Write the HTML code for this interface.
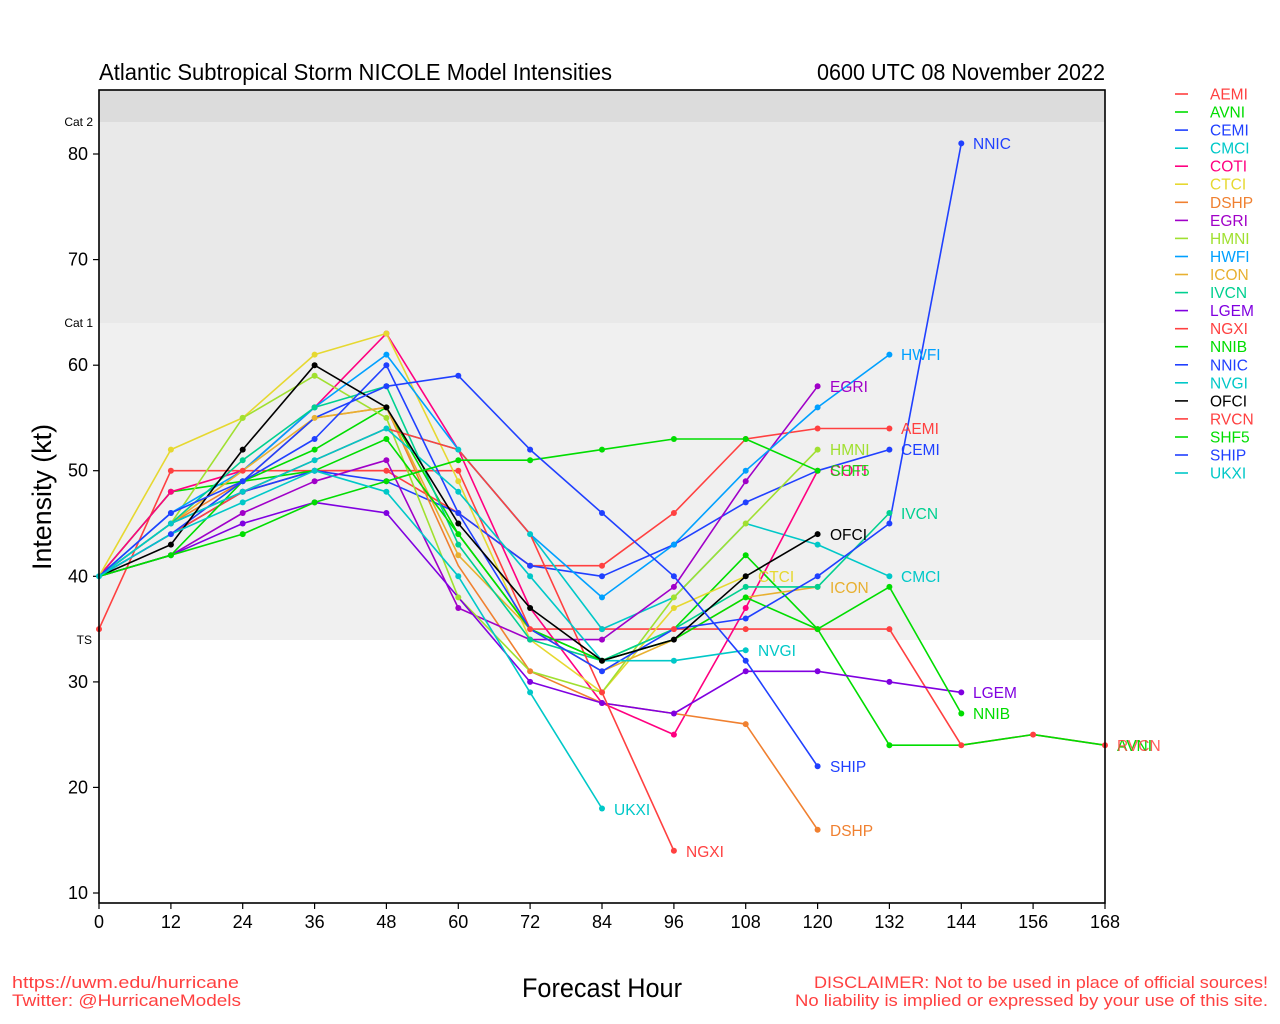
<!DOCTYPE html>
<html><head><meta charset="utf-8"><style>
html,body{margin:0;padding:0;background:#fff;}
svg{display:block;}
text{font-family:"Liberation Sans",sans-serif;}
</style></head><body>
<svg width="1280" height="1024" viewBox="0 0 1280 1024" xmlns="http://www.w3.org/2000/svg">
<rect x="0" y="0" width="1280" height="1024" fill="#ffffff"/>
<!-- bands -->
<rect x="99" y="90" width="1006" height="32" fill="#dcdcdc"/>
<rect x="99" y="122" width="1006" height="201" fill="#e9e9e9"/>
<rect x="99" y="323" width="1006" height="317" fill="#f0f0f0"/>
<!-- titles -->
<text x="99" y="80" font-size="23" textLength="513" lengthAdjust="spacingAndGlyphs" fill="#000">Atlantic Subtropical Storm NICOLE Model Intensities</text>
<text x="1105" y="80" font-size="23" text-anchor="end" textLength="288" lengthAdjust="spacingAndGlyphs" fill="#000">0600 UTC 08 November 2022</text>
<!-- cat labels -->
<text x="93" y="126" font-size="12" text-anchor="end" fill="#000">Cat 2</text>
<text x="93" y="327" font-size="12" text-anchor="end" fill="#000">Cat 1</text>
<text x="92" y="644" font-size="12" text-anchor="end" fill="#000">TS</text>
<!-- y ticks -->
<g stroke="#000" stroke-width="1.2">
<line x1="93" y1="154" x2="99" y2="154"/>
<line x1="93" y1="259.6" x2="99" y2="259.6"/>
<line x1="93" y1="365.2" x2="99" y2="365.2"/>
<line x1="93" y1="470.7" x2="99" y2="470.7"/>
<line x1="93" y1="576.3" x2="99" y2="576.3"/>
<line x1="93" y1="681.9" x2="99" y2="681.9"/>
<line x1="93" y1="787.4" x2="99" y2="787.4"/>
<line x1="93" y1="893" x2="99" y2="893"/>
</g>
<g font-size="18" text-anchor="end" fill="#000">
<text x="88" y="160">80</text>
<text x="88" y="265.6">70</text>
<text x="88" y="371.2">60</text>
<text x="88" y="476.7">50</text>
<text x="88" y="582.3">40</text>
<text x="88" y="687.9">30</text>
<text x="88" y="793.4">20</text>
<text x="88" y="899">10</text>
</g>
<!-- x ticks -->
<g stroke="#000" stroke-width="1.2">
<line x1="99" y1="903" x2="99" y2="909"/>
<line x1="170.9" y1="903" x2="170.9" y2="909"/>
<line x1="242.7" y1="903" x2="242.7" y2="909"/>
<line x1="314.6" y1="903" x2="314.6" y2="909"/>
<line x1="386.4" y1="903" x2="386.4" y2="909"/>
<line x1="458.3" y1="903" x2="458.3" y2="909"/>
<line x1="530.1" y1="903" x2="530.1" y2="909"/>
<line x1="602" y1="903" x2="602" y2="909"/>
<line x1="673.9" y1="903" x2="673.9" y2="909"/>
<line x1="745.7" y1="903" x2="745.7" y2="909"/>
<line x1="817.6" y1="903" x2="817.6" y2="909"/>
<line x1="889.4" y1="903" x2="889.4" y2="909"/>
<line x1="961.3" y1="903" x2="961.3" y2="909"/>
<line x1="1033.1" y1="903" x2="1033.1" y2="909"/>
<line x1="1105" y1="903" x2="1105" y2="909"/>
</g>
<g font-size="18" text-anchor="middle" fill="#000">
<text x="99" y="928">0</text>
<text x="170.9" y="928">12</text>
<text x="242.7" y="928">24</text>
<text x="314.6" y="928">36</text>
<text x="386.4" y="928">48</text>
<text x="458.3" y="928">60</text>
<text x="530.1" y="928">72</text>
<text x="602" y="928">84</text>
<text x="673.9" y="928">96</text>
<text x="745.7" y="928">108</text>
<text x="817.6" y="928">120</text>
<text x="889.4" y="928">132</text>
<text x="961.3" y="928">144</text>
<text x="1033.1" y="928">156</text>
<text x="1105" y="928">168</text>
</g>
<!-- axis titles -->
<text x="0" y="0" font-size="27" text-anchor="middle" textLength="146" lengthAdjust="spacingAndGlyphs" transform="translate(51,497) rotate(-90)" fill="#000">Intensity (kt)</text>
<text x="602" y="997" font-size="27" text-anchor="middle" textLength="160" lengthAdjust="spacingAndGlyphs" fill="#000">Forecast Hour</text>
<!-- footer -->
<g font-size="17" fill="#ff4040">
<text x="12" y="988" textLength="227" lengthAdjust="spacingAndGlyphs">https://uwm.edu/hurricane</text>
<text x="12" y="1006" textLength="229" lengthAdjust="spacingAndGlyphs">Twitter: @HurricaneModels</text>
<text x="1268" y="988" text-anchor="end" textLength="454" lengthAdjust="spacingAndGlyphs">DISCLAIMER: Not to be used in place of official sources!</text>
<text x="1268" y="1006" text-anchor="end" textLength="473" lengthAdjust="spacingAndGlyphs">No liability is implied or expressed by your use of this site.</text>
</g>

<!-- series -->
<g fill="none" stroke-width="1.6" stroke-linejoin="round">
<polyline stroke="#ff4040" points="99,629.1 170.9,470.7 242.7,470.7 314.6,470.7 386.4,470.7 458.3,470.7 530.1,629.1 602,629.1 673.9,629.1 745.7,629.1 817.6,629.1 889.4,629.1 961.3,745.2 1033.1,734.6 1105,745.2"/>
<polyline stroke="#00dd00" points="99,576.3 170.9,491.8 242.7,481.3 314.6,449.6 386.4,407.4 458.3,534.1 530.1,629.1 602,660.7 673.9,629.1 745.7,555.2 817.6,629.1 889.4,745.2 961.3,745.2 1033.1,734.6 1105,745.2"/>
<polyline stroke="#ff4040" points="99,576.3 170.9,523.5 242.7,491.8 314.6,470.7 386.4,470.7 458.3,513.0 530.1,565.7 602,565.7 673.9,513.0 745.7,439.0 817.6,428.5 889.4,428.5"/>
<polyline stroke="#2040ff" points="99,576.3 170.9,534.1 242.7,491.8 314.6,470.7 386.4,481.3 458.3,513.0 530.1,565.7 602,576.3 673.9,544.6 745.7,502.4 817.6,470.7 889.4,449.6"/>
<polyline stroke="#00c8c8" points="99,576.3 170.9,523.5 242.7,491.8 314.6,460.2 386.4,428.5 458.3,449.6 530.1,534.1 602,629.1 673.9,597.4 745.7,523.5 817.6,544.6 889.4,576.3"/>
<polyline stroke="#ff0080" points="99,576.3 170.9,491.8 242.7,470.7 314.6,407.4 386.4,333.5 458.3,449.6 530.1,608.0 602,703.0 673.9,734.6 745.7,608.0 817.6,470.7"/>
<polyline stroke="#e6d830" points="99,576.3 170.9,449.6 242.7,417.9 314.6,354.6 386.4,333.5 458.3,481.3 530.1,639.6 602,692.4 673.9,608.0 745.7,576.3"/>
<polyline stroke="#f08030" points="99,576.3 170.9,523.5 242.7,481.3 314.6,417.9 386.4,407.4 458.3,565.7 530.1,671.3 602,703.0 673.9,713.5 745.7,724.1 817.6,829.7"/>
<polyline stroke="#a000c8" points="99,576.3 170.9,555.2 242.7,513.0 314.6,481.3 386.4,460.2 458.3,608.0 530.1,639.6 602,639.6 673.9,586.9 745.7,481.3 817.6,386.3"/>
<polyline stroke="#a0e030" points="99,576.3 170.9,523.5 242.7,417.9 314.6,375.7 386.4,417.9 458.3,597.4 530.1,671.3 602,692.4 673.9,597.4 745.7,523.5 817.6,449.6"/>
<polyline stroke="#00a0ff" points="99,576.3 170.9,513.0 242.7,470.7 314.6,407.4 386.4,354.6 458.3,449.6 530.1,534.1 602,597.4 673.9,544.6 745.7,470.7 817.6,407.4 889.4,354.6"/>
<polyline stroke="#e8b030" points="99,576.3 170.9,523.5 242.7,470.7 314.6,417.9 386.4,407.4 458.3,555.2 530.1,629.1 602,671.3 673.9,639.6 745.7,597.4 817.6,586.9"/>
<polyline stroke="#00d090" points="99,576.3 170.9,523.5 242.7,460.2 314.6,407.4 386.4,386.3 458.3,544.6 530.1,639.6 602,660.7 673.9,629.1 745.7,586.9 817.6,586.9 889.4,513.0"/>
<polyline stroke="#8000e0" points="99,576.3 170.9,555.2 242.7,523.5 314.6,502.4 386.4,513.0 458.3,597.4 530.1,681.9 602,703.0 673.9,713.5 745.7,671.3 817.6,671.3 889.4,681.9 961.3,692.4"/>
<polyline stroke="#ff4040" points="99,576.3 170.9,534.1 242.7,491.8 314.6,460.2 386.4,428.5 458.3,449.6 530.1,534.1 602,692.4 673.9,850.8"/>
<polyline stroke="#00dd00" points="99,576.3 170.9,555.2 242.7,481.3 314.6,470.7 386.4,439.0 458.3,534.1 530.1,629.1 602,660.7 673.9,639.6 745.7,597.4 817.6,629.1 889.4,586.9 961.3,713.5"/>
<polyline stroke="#2040ff" points="99,576.3 170.9,534.1 242.7,481.3 314.6,439.0 386.4,365.2 458.3,513.0 530.1,629.1 602,671.3 673.9,629.1 745.7,618.5 817.6,576.3 889.4,523.5 961.3,143.4"/>
<polyline stroke="#00c8c8" points="99,576.3 170.9,523.5 242.7,491.8 314.6,460.2 386.4,428.5 458.3,491.8 530.1,576.3 602,660.7 673.9,660.7 745.7,650.2"/>
<polyline stroke="#000000" points="99,576.3 170.9,544.6 242.7,449.6 314.6,365.2 386.4,407.4 458.3,523.5 530.1,608.0 602,660.7 673.9,639.6 745.7,576.3 817.6,534.1"/>
<polyline stroke="#00dd00" points="99,576.3 170.9,555.2 242.7,534.1 314.6,502.4 386.4,481.3 458.3,460.2 530.1,460.2 602,449.6 673.9,439.0 745.7,439.0 817.6,470.7"/>
<polyline stroke="#2040ff" points="99,576.3 170.9,513.0 242.7,481.3 314.6,417.9 386.4,386.3 458.3,375.7 530.1,449.6 602,513.0 673.9,576.3 745.7,660.7 817.6,766.3"/>
<polyline stroke="#00c8c8" points="99,576.3 170.9,534.1 242.7,502.4 314.6,470.7 386.4,491.8 458.3,576.3 530.1,692.4 602,808.5"/>
</g>

<!-- markers -->
<g>
<g fill="#ff4040"><circle cx="99" cy="629.1" r="3"/><circle cx="170.9" cy="470.7" r="3"/><circle cx="242.7" cy="470.7" r="3"/><circle cx="314.6" cy="470.7" r="3"/><circle cx="386.4" cy="470.7" r="3"/><circle cx="458.3" cy="470.7" r="3"/><circle cx="530.1" cy="629.1" r="3"/><circle cx="602" cy="629.1" r="3"/><circle cx="673.9" cy="629.1" r="3"/><circle cx="745.7" cy="629.1" r="3"/><circle cx="817.6" cy="629.1" r="3"/><circle cx="889.4" cy="629.1" r="3"/><circle cx="961.3" cy="745.2" r="3"/><circle cx="1033.1" cy="734.6" r="3"/><circle cx="1105" cy="745.2" r="3"/></g>
<g fill="#00dd00"><circle cx="170.9" cy="491.8" r="3"/><circle cx="242.7" cy="481.3" r="3"/><circle cx="314.6" cy="449.6" r="3"/><circle cx="386.4" cy="407.4" r="3"/><circle cx="458.3" cy="534.1" r="3"/><circle cx="602" cy="660.7" r="3"/><circle cx="745.7" cy="555.2" r="3"/><circle cx="817.6" cy="629.1" r="3"/><circle cx="889.4" cy="745.2" r="3"/></g>
<g fill="#ff4040"><circle cx="170.9" cy="523.5" r="3"/><circle cx="242.7" cy="491.8" r="3"/><circle cx="458.3" cy="513.0" r="3"/><circle cx="530.1" cy="565.7" r="3"/><circle cx="602" cy="565.7" r="3"/><circle cx="673.9" cy="513.0" r="3"/><circle cx="745.7" cy="439.0" r="3"/><circle cx="817.6" cy="428.5" r="3"/><circle cx="889.4" cy="428.5" r="3"/></g>
<g fill="#2040ff"><circle cx="170.9" cy="534.1" r="3"/><circle cx="242.7" cy="491.8" r="3"/><circle cx="314.6" cy="470.7" r="3"/><circle cx="386.4" cy="481.3" r="3"/><circle cx="458.3" cy="513.0" r="3"/><circle cx="530.1" cy="565.7" r="3"/><circle cx="602" cy="576.3" r="3"/><circle cx="673.9" cy="544.6" r="3"/><circle cx="745.7" cy="502.4" r="3"/><circle cx="889.4" cy="449.6" r="3"/></g>
<g fill="#00c8c8"><circle cx="170.9" cy="523.5" r="3"/><circle cx="242.7" cy="491.8" r="3"/><circle cx="314.6" cy="460.2" r="3"/><circle cx="386.4" cy="428.5" r="3"/><circle cx="458.3" cy="449.6" r="3"/><circle cx="530.1" cy="534.1" r="3"/><circle cx="602" cy="629.1" r="3"/><circle cx="817.6" cy="544.6" r="3"/><circle cx="889.4" cy="576.3" r="3"/></g>
<g fill="#ff0080"><circle cx="170.9" cy="491.8" r="3"/><circle cx="314.6" cy="407.4" r="3"/><circle cx="386.4" cy="333.5" r="3"/><circle cx="602" cy="703.0" r="3"/><circle cx="673.9" cy="734.6" r="3"/><circle cx="745.7" cy="608.0" r="3"/><circle cx="817.6" cy="470.7" r="3"/></g>
<g fill="#e6d830"><circle cx="170.9" cy="449.6" r="3"/><circle cx="242.7" cy="417.9" r="3"/><circle cx="314.6" cy="354.6" r="3"/><circle cx="386.4" cy="333.5" r="3"/><circle cx="458.3" cy="481.3" r="3"/><circle cx="602" cy="692.4" r="3"/><circle cx="673.9" cy="608.0" r="3"/></g>
<g fill="#f08030"><circle cx="530.1" cy="671.3" r="3"/><circle cx="745.7" cy="724.1" r="3"/><circle cx="817.6" cy="829.7" r="3"/></g>
<g fill="#a000c8"><circle cx="242.7" cy="513.0" r="3"/><circle cx="314.6" cy="481.3" r="3"/><circle cx="386.4" cy="460.2" r="3"/><circle cx="458.3" cy="608.0" r="3"/><circle cx="530.1" cy="639.6" r="3"/><circle cx="602" cy="639.6" r="3"/><circle cx="673.9" cy="586.9" r="3"/><circle cx="745.7" cy="481.3" r="3"/><circle cx="817.6" cy="386.3" r="3"/></g>
<g fill="#a0e030"><circle cx="242.7" cy="417.9" r="3"/><circle cx="314.6" cy="375.7" r="3"/><circle cx="386.4" cy="417.9" r="3"/><circle cx="458.3" cy="597.4" r="3"/><circle cx="673.9" cy="597.4" r="3"/><circle cx="745.7" cy="523.5" r="3"/><circle cx="817.6" cy="449.6" r="3"/></g>
<g fill="#00a0ff"><circle cx="170.9" cy="513.0" r="3"/><circle cx="314.6" cy="407.4" r="3"/><circle cx="386.4" cy="354.6" r="3"/><circle cx="602" cy="597.4" r="3"/><circle cx="673.9" cy="544.6" r="3"/><circle cx="745.7" cy="470.7" r="3"/><circle cx="817.6" cy="407.4" r="3"/><circle cx="889.4" cy="354.6" r="3"/></g>
<g fill="#e8b030"><circle cx="314.6" cy="417.9" r="3"/><circle cx="386.4" cy="407.4" r="3"/><circle cx="458.3" cy="555.2" r="3"/><circle cx="817.6" cy="586.9" r="3"/></g>
<g fill="#00d090"><circle cx="242.7" cy="460.2" r="3"/><circle cx="314.6" cy="407.4" r="3"/><circle cx="386.4" cy="386.3" r="3"/><circle cx="458.3" cy="544.6" r="3"/><circle cx="530.1" cy="639.6" r="3"/><circle cx="745.7" cy="586.9" r="3"/><circle cx="817.6" cy="586.9" r="3"/><circle cx="889.4" cy="513.0" r="3"/></g>
<g fill="#8000e0"><circle cx="170.9" cy="555.2" r="3"/><circle cx="242.7" cy="523.5" r="3"/><circle cx="314.6" cy="502.4" r="3"/><circle cx="386.4" cy="513.0" r="3"/><circle cx="530.1" cy="681.9" r="3"/><circle cx="602" cy="703.0" r="3"/><circle cx="673.9" cy="713.5" r="3"/><circle cx="745.7" cy="671.3" r="3"/><circle cx="817.6" cy="671.3" r="3"/><circle cx="889.4" cy="681.9" r="3"/><circle cx="961.3" cy="692.4" r="3"/></g>
<g fill="#ff4040"><circle cx="602" cy="692.4" r="3"/><circle cx="673.9" cy="850.8" r="3"/></g>
<g fill="#00dd00"><circle cx="170.9" cy="555.2" r="3"/><circle cx="386.4" cy="439.0" r="3"/><circle cx="745.7" cy="597.4" r="3"/><circle cx="889.4" cy="586.9" r="3"/><circle cx="961.3" cy="713.5" r="3"/></g>
<g fill="#2040ff"><circle cx="314.6" cy="439.0" r="3"/><circle cx="386.4" cy="365.2" r="3"/><circle cx="602" cy="671.3" r="3"/><circle cx="745.7" cy="618.5" r="3"/><circle cx="817.6" cy="576.3" r="3"/><circle cx="889.4" cy="523.5" r="3"/><circle cx="961.3" cy="143.4" r="3"/></g>
<g fill="#00c8c8"><circle cx="458.3" cy="491.8" r="3"/><circle cx="530.1" cy="576.3" r="3"/><circle cx="673.9" cy="660.7" r="3"/><circle cx="745.7" cy="650.2" r="3"/></g>
<g fill="#000000"><circle cx="170.9" cy="544.6" r="3"/><circle cx="242.7" cy="449.6" r="3"/><circle cx="314.6" cy="365.2" r="3"/><circle cx="386.4" cy="407.4" r="3"/><circle cx="458.3" cy="523.5" r="3"/><circle cx="530.1" cy="608.0" r="3"/><circle cx="602" cy="660.7" r="3"/><circle cx="673.9" cy="639.6" r="3"/><circle cx="745.7" cy="576.3" r="3"/><circle cx="817.6" cy="534.1" r="3"/></g>
<g fill="#00dd00"><circle cx="242.7" cy="534.1" r="3"/><circle cx="314.6" cy="502.4" r="3"/><circle cx="386.4" cy="481.3" r="3"/><circle cx="458.3" cy="460.2" r="3"/><circle cx="530.1" cy="460.2" r="3"/><circle cx="602" cy="449.6" r="3"/><circle cx="673.9" cy="439.0" r="3"/><circle cx="745.7" cy="439.0" r="3"/><circle cx="817.6" cy="470.7" r="3"/></g>
<g fill="#2040ff"><circle cx="170.9" cy="513.0" r="3"/><circle cx="242.7" cy="481.3" r="3"/><circle cx="386.4" cy="386.3" r="3"/><circle cx="458.3" cy="375.7" r="3"/><circle cx="530.1" cy="449.6" r="3"/><circle cx="602" cy="513.0" r="3"/><circle cx="673.9" cy="576.3" r="3"/><circle cx="745.7" cy="660.7" r="3"/><circle cx="817.6" cy="766.3" r="3"/></g>
<g fill="#00c8c8"><circle cx="242.7" cy="502.4" r="3"/><circle cx="314.6" cy="470.7" r="3"/><circle cx="386.4" cy="491.8" r="3"/><circle cx="458.3" cy="576.3" r="3"/><circle cx="530.1" cy="692.4" r="3"/><circle cx="602" cy="808.5" r="3"/></g>
<circle cx="99" cy="576.3" r="3" fill="#00c8c8"/>
</g>

<!-- end labels -->
<g font-size="15.5">
<text x="973" y="149" fill="#2040ff">NNIC</text>
<text x="901" y="360" fill="#00a0ff">HWFI</text>
<text x="830" y="392" fill="#a000c8">EGRI</text>
<text x="901" y="434" fill="#ff4040">AEMI</text>
<text x="901" y="455" fill="#2040ff">CEMI</text>
<text x="830" y="455" fill="#a0e030">HMNI</text>
<text x="830" y="476" fill="#ff0080">COTI</text>
<text x="830" y="476" fill="#00dd00" fill-opacity="0.85">SHF5</text>
<text x="901" y="519" fill="#00d090">IVCN</text>
<text x="830" y="540" fill="#000000">OFCI</text>
<text x="901" y="582" fill="#00c8c8">CMCI</text>
<text x="758" y="582" fill="#e6d830">CTCI</text>
<text x="830" y="593" fill="#e8b030">ICON</text>
<text x="758" y="656" fill="#00c8c8">NVGI</text>
<text x="973" y="698" fill="#8000e0">LGEM</text>
<text x="973" y="719" fill="#00dd00">NNIB</text>
<text x="830" y="772" fill="#2040ff">SHIP</text>
<text x="1117" y="751" fill="#00dd00">AVNI</text>
<text x="1117" y="751" fill="#ff4040" fill-opacity="0.85">RVCN</text>
<text x="830" y="836" fill="#f08030">DSHP</text>
<text x="614" y="815" fill="#00c8c8">UKXI</text>
<text x="686" y="857" fill="#ff4040">NGXI</text>
</g>

<!-- frame -->
<rect x="99" y="90" width="1006" height="813" fill="none" stroke="#000" stroke-width="1.6"/>

<!-- legend -->
<g stroke-width="1.6">
<line x1="1175" y1="94" x2="1188" y2="94" stroke="#ff4040"/>
<line x1="1175" y1="112" x2="1188" y2="112" stroke="#00dd00"/>
<line x1="1175" y1="130.1" x2="1188" y2="130.1" stroke="#2040ff"/>
<line x1="1175" y1="148.2" x2="1188" y2="148.2" stroke="#00c8c8"/>
<line x1="1175" y1="166.2" x2="1188" y2="166.2" stroke="#ff0080"/>
<line x1="1175" y1="184.2" x2="1188" y2="184.2" stroke="#e6d830"/>
<line x1="1175" y1="202.3" x2="1188" y2="202.3" stroke="#f08030"/>
<line x1="1175" y1="220.4" x2="1188" y2="220.4" stroke="#a000c8"/>
<line x1="1175" y1="238.4" x2="1188" y2="238.4" stroke="#a0e030"/>
<line x1="1175" y1="256.5" x2="1188" y2="256.5" stroke="#00a0ff"/>
<line x1="1175" y1="274.5" x2="1188" y2="274.5" stroke="#e8b030"/>
<line x1="1175" y1="292.6" x2="1188" y2="292.6" stroke="#00d090"/>
<line x1="1175" y1="310.6" x2="1188" y2="310.6" stroke="#8000e0"/>
<line x1="1175" y1="328.7" x2="1188" y2="328.7" stroke="#ff4040"/>
<line x1="1175" y1="346.7" x2="1188" y2="346.7" stroke="#00dd00"/>
<line x1="1175" y1="364.8" x2="1188" y2="364.8" stroke="#2040ff"/>
<line x1="1175" y1="382.8" x2="1188" y2="382.8" stroke="#00c8c8"/>
<line x1="1175" y1="400.9" x2="1188" y2="400.9" stroke="#000000"/>
<line x1="1175" y1="418.9" x2="1188" y2="418.9" stroke="#ff4040"/>
<line x1="1175" y1="437" x2="1188" y2="437" stroke="#00dd00"/>
<line x1="1175" y1="455" x2="1188" y2="455" stroke="#2040ff"/>
<line x1="1175" y1="473" x2="1188" y2="473" stroke="#00c8c8"/>
</g>
<g font-size="15.5">
<text x="1210" y="99.5" fill="#ff4040">AEMI</text>
<text x="1210" y="117.5" fill="#00dd00">AVNI</text>
<text x="1210" y="135.6" fill="#2040ff">CEMI</text>
<text x="1210" y="153.7" fill="#00c8c8">CMCI</text>
<text x="1210" y="171.7" fill="#ff0080">COTI</text>
<text x="1210" y="189.7" fill="#e6d830">CTCI</text>
<text x="1210" y="207.8" fill="#f08030">DSHP</text>
<text x="1210" y="225.9" fill="#a000c8">EGRI</text>
<text x="1210" y="243.9" fill="#a0e030">HMNI</text>
<text x="1210" y="262" fill="#00a0ff">HWFI</text>
<text x="1210" y="280" fill="#e8b030">ICON</text>
<text x="1210" y="298.1" fill="#00d090">IVCN</text>
<text x="1210" y="316.1" fill="#8000e0">LGEM</text>
<text x="1210" y="334.2" fill="#ff4040">NGXI</text>
<text x="1210" y="352.2" fill="#00dd00">NNIB</text>
<text x="1210" y="370.3" fill="#2040ff">NNIC</text>
<text x="1210" y="388.3" fill="#00c8c8">NVGI</text>
<text x="1210" y="406.4" fill="#000000">OFCI</text>
<text x="1210" y="424.4" fill="#ff4040">RVCN</text>
<text x="1210" y="442.5" fill="#00dd00">SHF5</text>
<text x="1210" y="460.5" fill="#2040ff">SHIP</text>
<text x="1210" y="478.5" fill="#00c8c8">UKXI</text>
</g>
</svg>
</body></html>
